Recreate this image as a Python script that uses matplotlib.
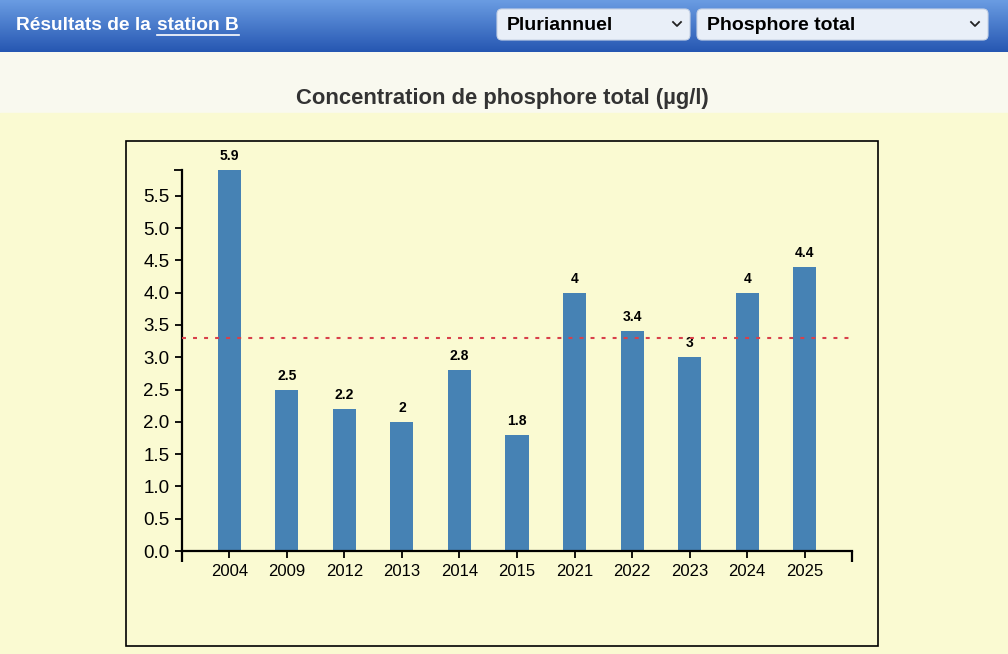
import numpy as np
import matplotlib.pyplot as plt
from matplotlib.patches import FancyBboxPatch, Rectangle

plt.rcParams['font.family'] = ['Liberation Sans', 'DejaVu Sans']

# data
years = ["2004", "2009", "2012", "2013", "2014", "2015", "2021", "2022", "2023", "2024", "2025"]
phosphore = [5.9, 2.5, 2.2, 2.0, 2.8, 1.8, 4.0, 3.4, 3.0, 4.0, 4.4]
labels = ["5.9", "2.5", "2.2", "2", "2.8", "1.8", "4", "3.4", "3", "4", "4.4"]
reference = 3.3
yticks = [0.0, 0.5, 1.0, 1.5, 2.0, 2.5, 3.0, 3.5, 4.0, 4.5, 5.0, 5.5]

W, H = 1008, 654
fig = plt.figure(figsize=(W / 100, H / 100), dpi=100)

# background layer in pixel coordinates
bg = fig.add_axes([0, 0, 1, 1])
bg.set_xlim(0, W)
bg.set_ylim(H, 0)
bg.axis("off")
bg.add_patch(Rectangle((0, 52), W, 61, color="#f9f9ef", zorder=0))
bg.add_patch(Rectangle((0, 113), W, H - 113, color="#fafad2", zorder=0))

# blue header with gradient
grad = np.linspace(0, 1, 60).reshape(-1, 1)
top = np.array([0x6a, 0x9c, 0xe2]) / 255
bot = np.array([0x26, 0x57, 0xb2]) / 255
img = top + (bot - top) * grad[:, :, None]
img = np.repeat(img, 2, axis=1)
bg.imshow(img, extent=[0, W, 52, 0], aspect="auto", zorder=1)

t1 = bg.text(16, 25, "Résultats de la", color="white", fontsize=13.8, fontweight="bold",
             va="center", ha="left", zorder=3)
t2 = bg.text(157, 25, "station B", color="white", fontsize=13.8, fontweight="bold",
             va="center", ha="left", zorder=3)
fig.canvas.draw()
ext = t2.get_window_extent()
bg.plot([157, 157 + ext.width], [35, 35], color="white", lw=1.2, zorder=3)

# dropdowns
for x0, x1, txt in [(497, 690, "Pluriannuel"), (697, 988, "Phosphore total")]:
    bg.add_patch(FancyBboxPatch((x0, 9), x1 - x0, 31, boxstyle="round,pad=0,rounding_size=5",
                                facecolor="#e9eff8", edgecolor="#c8d3e6", lw=0.8, zorder=2))
    bg.text(x0 + 10, 25, txt, color="black", fontsize=14, fontweight="bold",
            va="center", ha="left", zorder=3)
    cx = x1 - 13
    bg.plot([cx - 4, cx, cx + 4], [22, 26, 22], color="#222222", lw=1.3, zorder=3)

bg.text(502, 98.5, "Concentration de phosphore total (µg/l)", color="#333333",
        fontsize=15.8, fontweight="bold", ha="center", va="center", zorder=3)

# chart frame
bg.add_patch(Rectangle((126, 141), 752, 505, facecolor="none", edgecolor="black", lw=1.2, zorder=2))

# chart
ax = fig.add_axes([182 / W, 1 - 551 / H, (852 - 182) / W, (551 - 170) / H])
ax.set_facecolor("none")
ax.set_zorder(2)

x = np.arange(len(years))
ax.bar(x, phosphore, width=0.4, color="#4682b4", zorder=2)
for xi, v, lab in zip(x, phosphore, labels):
    ax.annotate(lab, (xi, v), xytext=(0, 5), textcoords="offset points",
                ha="center", va="bottom", fontsize=10, fontweight="bold")

ax.axhline(reference, color="#d8404a", lw=1.5, ls=(0, (1.9, 3.4)), zorder=3)

ax.set_xlim(-0.82, len(years) - 1 + 0.82)
ax.set_ylim(0, 5.9)
ax.set_xticks(x)
ax.set_xticklabels(years)
ax.set_yticks(yticks)
ax.set_yticklabels([f"{t:.1f}" for t in yticks])
ax.set_xticks([-0.82, len(years) - 1 + 0.82], minor=True)
ax.set_yticks([5.9], minor=True)

for s in ["top", "right"]:
    ax.spines[s].set_visible(False)
for s in ["left", "bottom"]:
    ax.spines[s].set_linewidth(1.6)

ax.tick_params(axis="both", which="major", direction="out", width=1.3, length=5, pad=4)
ax.tick_params(axis="x", which="major", labelsize=12, pad=4)
ax.tick_params(axis="y", which="major", labelsize=13.5)
ax.tick_params(axis="x", which="minor", length=8, width=1.6)
ax.tick_params(axis="y", which="minor", length=6, width=1.3)

fig.savefig("out.png", dpi=100)
